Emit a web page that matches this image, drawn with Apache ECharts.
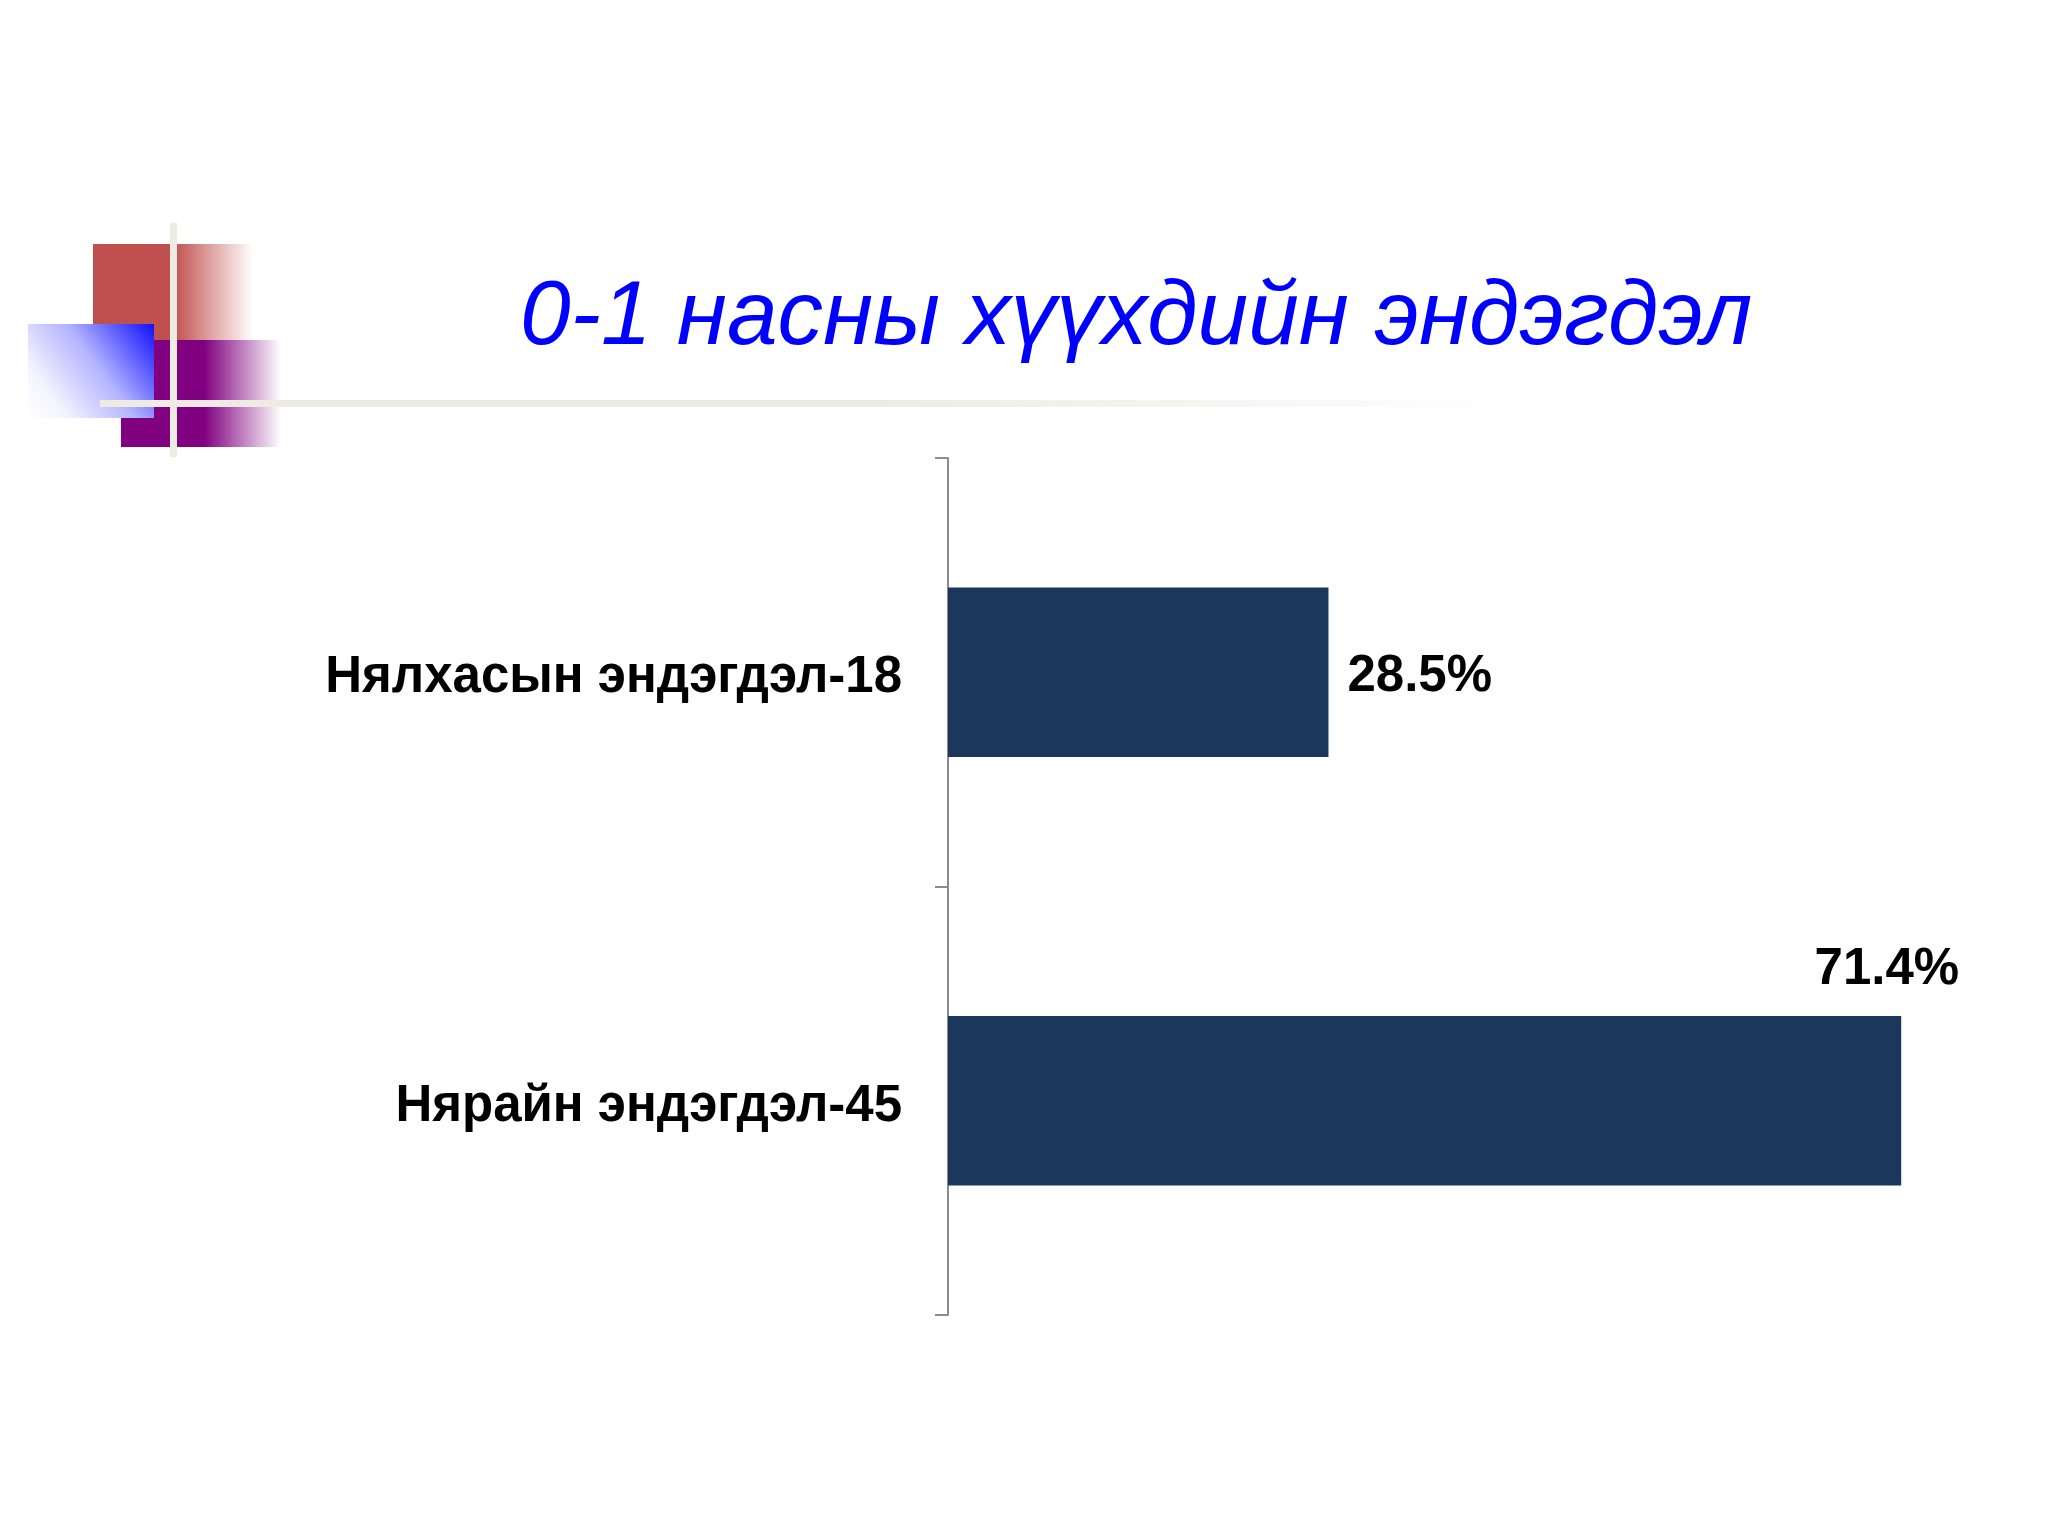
<!DOCTYPE html>
<html>
<head>
<meta charset="utf-8">
<style>
  html, body { margin: 0; padding: 0; background: #ffffff; }
  #chart { width: 2048px; height: 1536px; }
</style>
<script src="https://cdn.jsdelivr.net/npm/echarts@6/dist/echarts.min.js"></script>
</head>
<body>
<div id="chart"></div>
<script>
// ---- data ----
const titleText = '0-1 насны хүүхдийн эндэгдэл';
const categories = ['Нялхасын эндэгдэл-18', 'Нярайн эндэгдэл-45'];
const shares = [28.5, 71.4];
const valueLabels = ['28.5%', '71.4%'];

const chart = echarts.init(document.getElementById('chart'));

const font = '"Liberation Sans", Arial, sans-serif';
const barColor = '#1b375c';

const seriesData = shares.map(function (v, i) {
  const item = { value: v };
  if (i === 1) {
    item.label = {
      position: ['98.5%', -46],
      align: 'center',
      verticalAlign: 'middle',
      offset: [0, 0]
    };
  }
  return item;
});

chart.setOption({
  backgroundColor: '#ffffff',
  animation: false,
  title: {
    text: titleText,
    left: 515,
    top: 268,
    textStyle: {
      fontFamily: font,
      fontStyle: 'italic',
      fontWeight: 'normal',
      fontSize: 91,
      color: '#0000ff'
    }
  },
  graphic: [
    {
      type: 'rect', z: 1,
      shape: { x: 93, y: 244, width: 160, height: 96 },
      style: {
        fill: new echarts.graphic.LinearGradient(0, 0, 1, 0, [
          { offset: 0, color: 'rgba(192,80,77,1)' },
          { offset: 0.5, color: 'rgba(192,80,77,1)' },
          { offset: 1, color: 'rgba(192,80,77,0)' }
        ])
      }
    },
    {
      type: 'rect', z: 2,
      shape: { x: 121, y: 340, width: 160, height: 107 },
      style: {
        fill: new echarts.graphic.LinearGradient(0, 0, 1, 0, [
          { offset: 0, color: 'rgba(128,0,128,1)' },
          { offset: 0.52, color: 'rgba(128,0,128,1)' },
          { offset: 1, color: 'rgba(128,0,128,0)' }
        ])
      }
    },
    {
      type: 'rect', z: 3,
      shape: { x: 28, y: 324, width: 126, height: 94 },
      style: {
        fill: new echarts.graphic.LinearGradient(1, 0, 0, 1, [
          { offset: 0, color: '#1010ff' },
          { offset: 0.45, color: '#b4b4ff' },
          { offset: 0.8, color: '#f4f4ff' },
          { offset: 1, color: '#ffffff' }
        ])
      }
    },
    {
      type: 'rect', z: 4,
      shape: { x: 170, y: 223, width: 7, height: 234 },
      style: { fill: '#eeebe2' }
    },
    {
      type: 'rect', z: 4,
      shape: { x: 100, y: 400, width: 1420, height: 7 },
      style: {
        fill: new echarts.graphic.LinearGradient(0, 0, 1, 0, [
          { offset: 0, color: 'rgba(238,235,226,1)' },
          { offset: 0.55, color: 'rgba(238,235,226,1)' },
          { offset: 1, color: 'rgba(238,235,226,0)' }
        ])
      }
    }
  ],
  grid: {
    left: 948,
    top: 458,
    width: 1068,
    height: 857,
    containLabel: false
  },
  xAxis: {
    type: 'value',
    min: 0,
    max: 80,
    show: false
  },
  yAxis: {
    type: 'category',
    data: categories,
    inverse: true,
    axisLine: { show: true, lineStyle: { color: '#8c8c8c', width: 2 } },
    axisTick: { show: true, length: 13, lineStyle: { color: '#8c8c8c', width: 2 } },
    axisLabel: {
      margin: 46,
      fontFamily: font,
      fontWeight: 'bold',
      fontSize: 51,
      color: '#000000',
      verticalAlign: 'top',
      lineHeight: 12
    },
    splitLine: { show: false }
  },
  series: [{
    type: 'bar',
    data: seriesData,
    barWidth: '39.5%',
    itemStyle: { color: barColor },
    label: {
      show: true,
      position: 'right',
      distance: 19,
      offset: [0, 5],
      fontFamily: font,
      fontWeight: 'bold',
      fontSize: 51,
      color: '#000000',
      formatter: function (p) { return valueLabels[p.dataIndex]; }
    }
  }]
});
</script>
</body>
</html>
